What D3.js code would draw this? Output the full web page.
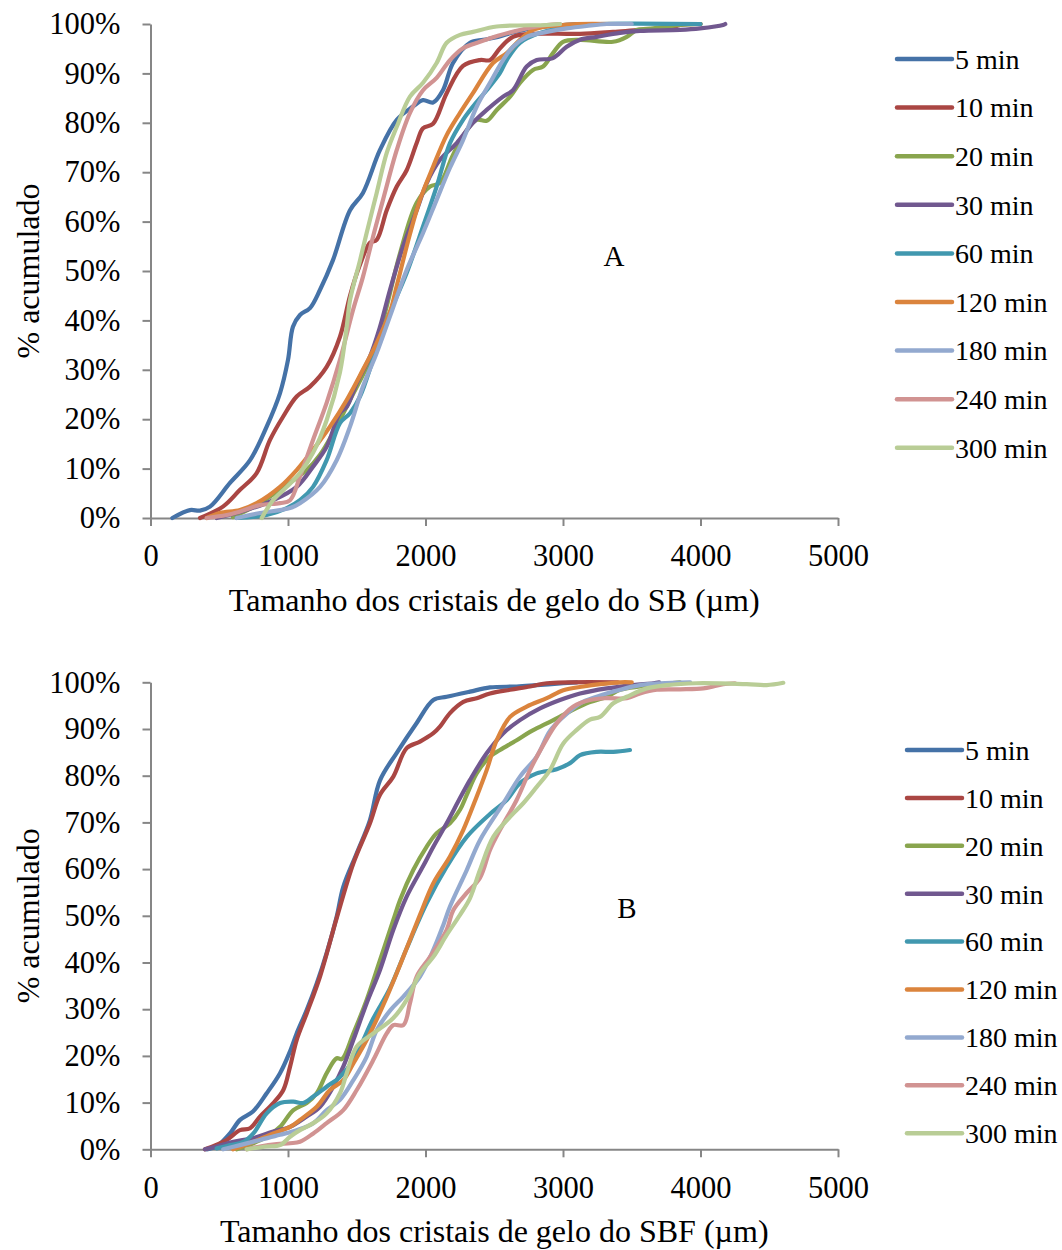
<!DOCTYPE html>
<html>
<head>
<meta charset="utf-8">
<script src="https://cdn.jsdelivr.net/npm/d3@7"></script>
<style>
  body { margin: 0; background: #fff; }
  svg { display: block; }
  text { font-family: "Liberation Serif", "Times New Roman", serif; fill: #000; }
</style>
</head>
<body>
<svg id="chart" width="1062" height="1250"></svg>
<script>
// Freezing times (series) and their colours
const seriesNames = ["5 min", "10 min", "20 min", "30 min", "60 min", "120 min", "180 min", "240 min", "300 min"];
const palette = ["#4572A7", "#AA4643", "#89A54E", "#71588F", "#4198AF", "#DB843D", "#93A9CF", "#D19392", "#B9CD96"];

// Axis ticks
const xTickValues = [0, 1000, 2000, 3000, 4000, 5000];
const yTickValues = [0, 10, 20, 30, 40, 50, 60, 70, 80, 90, 100];

// Panel A (SB): [crystal size µm, cumulative %]
const sb5 = [[159,0],[287,1.6],[360,1.5],[433,2.3],[578,7.1],[724,11.7],[845,18.5],[942,25.3],[1000,32],[1036,38.7],[1087,41.1],[1160,42.5],[1233,46.2],[1327,52.2],[1451,62.3],[1545,65.8],[1669,74.5],[1791,80.6],[1909,83.3],[1982,84.6],[2055,84.1],[2127,86.6],[2200,92.1],[2324,96.2],[2420,96.8],[2527,97.4],[2650,98.4],[2800,99.2],[3000,99.8],[3100,100]];
const sb10 = [[360,0],[527,2.3],[651,5.7],[772,9.1],[869,15.8],[964,20.5],[1063,24.6],[1160,26.6],[1281,30.6],[1378,36.7],[1451,45],[1520,51],[1596,55.7],[1645,56.3],[1718,62.3],[1791,67.1],[1863,70.4],[1936,75.9],[1982,78.9],[2055,79.8],[2154,86],[2273,91.5],[2396,92.7],[2469,92.7],[2542,95.1],[2636,97.4],[2760,98],[3124,98],[3364,98.4],[3560,98.8],[3778,99.1],[3851,99.8],[4000,100]];
const sb20 = [[600,0.2],[772,2.6],[942,5.7],[1136,9.7],[1233,12.8],[1327,17.2],[1451,23.9],[1596,32],[1691,40],[1815,53.6],[1936,63.8],[2033,67.1],[2105,67.8],[2200,73.5],[2300,78.5],[2373,80.6],[2445,80.4],[2518,82.6],[2615,85.3],[2687,88.1],[2782,90.7],[2855,91.4],[2927,94.1],[3000,96.4],[3124,96.8],[3364,96.4],[3464,97.4],[3536,98.8],[3655,99.1],[3851,99.8],[4000,100]];
const sb30 = [[481,0],[651,1.2],[891,3.6],[1063,6.3],[1182,10.4],[1281,14.4],[1378,21.3],[1427,22.5],[1500,27.3],[1596,32.7],[1669,38.7],[1742,46.2],[1836,54.9],[1936,62.3],[2009,67.8],[2105,72.5],[2227,75.9],[2345,80],[2445,82.6],[2564,85.3],[2636,86.6],[2736,91.4],[2809,92.7],[2927,93.1],[3027,95.4],[3124,96.8],[3245,97.4],[3415,98.2],[3560,98.6],[3851,98.8],[3996,99.1],[4164,99.8],[4180,100]];
const sb60 = [[627,0],[845,0.6],[991,2],[1087,3.6],[1182,6.3],[1281,11.7],[1378,19.2],[1451,21.2],[1524,24.6],[1618,32],[1718,40],[1863,49.6],[1982,59],[2081,67.1],[2178,75.9],[2273,80.6],[2345,83.3],[2445,86.6],[2542,90.1],[2591,92.7],[2687,96.2],[2833,98.2],[2978,99.2],[3172,99.8],[3269,100],[4000,100]];
const sb120 = [[409,0],[505,1],[651,1.6],[772,3],[942,6.3],[1063,9.7],[1182,13.8],[1305,18.5],[1427,23.9],[1545,30],[1645,35.4],[1745,42],[1791,47],[1887,57.5],[1960,64.4],[2055,71.1],[2154,77.5],[2251,82],[2345,86],[2491,92.1],[2591,94.1],[2687,96.8],[2782,98.8],[2882,99.5],[3000,99.8],[3100,100],[3400,100]];
const sb180 = [[627,0],[796,1],[1015,2],[1087,3],[1233,6.3],[1354,11.7],[1451,18.5],[1545,26.6],[1645,33.4],[1745,41.1],[1863,50.2],[1982,57.7],[2081,64.4],[2178,70.9],[2273,76.5],[2373,83.3],[2469,88.1],[2564,92.7],[2636,95.4],[2736,97.4],[2882,98.4],[3027,99.1],[3172,99.6],[3318,100],[3500,100]];
const sb240 = [[409,0],[554,0.6],[651,1.3],[796,2.6],[942,3],[1015,3.6],[1087,8.4],[1182,15.8],[1281,23.3],[1378,32],[1473,42.1],[1545,48.8],[1618,56.9],[1691,64.4],[1791,74.5],[1887,82],[1982,86.6],[2081,89.1],[2178,92.7],[2273,95.1],[2396,96.4],[2527,97.6],[2687,98.8],[2882,99.8],[2978,100]];
const sb300 = [[809,0],[891,3.6],[991,6.3],[1087,9.1],[1182,13.2],[1281,19.8],[1378,29.5],[1427,38.7],[1451,44.1],[1524,52.2],[1572,57.7],[1645,65.8],[1718,73.9],[1791,79.2],[1887,85.3],[1982,88.1],[2081,92.1],[2154,96.2],[2251,97.8],[2345,98.4],[2518,99.5],[2882,99.8],[2978,100]];

// Panel B (SBF): [crystal size µm, cumulative %]
const sbf5 = [[409,0],[481,0.6],[578,3.4],[651,6.3],[745,8.1],[845,12],[942,16.3],[1015,21],[1063,24.8],[1136,29.8],[1209,35.5],[1281,42],[1354,49.8],[1402,56.2],[1500,63.4],[1596,70.5],[1669,79],[1791,84.9],[1936,91.3],[2057,96.2],[2154,96.9],[2324,98],[2469,98.9],[2663,99.1],[2809,99.4],[3002,99.8],[3100,100]];
const sbf10 = [[396,0],[554,2],[651,4.1],[724,4.5],[796,7],[893,9.9],[966,12.7],[1015,17.7],[1063,23.4],[1136,29.1],[1233,37],[1354,49.5],[1475,61.2],[1596,69.8],[1669,75.9],[1766,79.8],[1863,85.9],[1960,87.3],[2057,89.1],[2105,90.5],[2178,93.4],[2275,95.8],[2372,96.6],[2469,97.6],[2615,98.4],[2760,99.1],[2882,99.8],[3400,100]];
const sbf20 = [[627,0],[748,1.3],[845,2.7],[942,4.8],[1039,8.4],[1136,9.9],[1209,12],[1281,16.3],[1354,19.5],[1391,19.3],[1475,24.8],[1572,32],[1669,40.5],[1766,49.1],[1815,53.4],[1911,59.8],[2009,64.8],[2081,67.7],[2178,69.8],[2251,72.7],[2300,75.9],[2372,80.5],[2469,84.1],[2542,85.5],[2663,87.6],[2760,89.4],[2882,91.2],[3027,93.4],[3172,95.5],[3318,96.9],[3415,98.4],[3560,99.1],[3655,99.4],[3850,100]];
const sbf30 = [[396,0],[481,0.6],[602,1.6],[748,2.4],[893,3.8],[1015,4.8],[1136,7],[1233,9.1],[1329,13.4],[1402,17.7],[1475,23.4],[1572,31.3],[1669,38.4],[1766,47],[1863,54.1],[1984,60.7],[2057,64.8],[2154,69.8],[2251,75.2],[2324,79.1],[2445,84.8],[2566,89.1],[2687,91.9],[2833,94.4],[2978,96.2],[3124,97.6],[3318,98.7],[3511,99.4],[3657,99.8],[3700,100]];
const sbf60 = [[481,0.2],[578,0.9],[675,1.6],[748,3.4],[845,7.7],[942,9.9],[1039,10.2],[1111,9.9],[1184,11.3],[1281,13.4],[1378,15.5],[1475,19.1],[1620,28],[1742,34.5],[1863,43],[2009,52.7],[2154,60.5],[2300,66.9],[2469,71.8],[2591,74.8],[2687,78.4],[2809,80.5],[2954,81.4],[3051,82.7],[3124,84.4],[3245,85.1],[3366,85.1],[3487,85.5]];
const sbf120 = [[600,0],[724,1.3],[893,3.4],[1015,4.8],[1087,6.3],[1209,9.1],[1305,12.7],[1402,14.8],[1475,18.4],[1572,23.4],[1693,30.9],[1815,39.5],[1960,50.2],[2057,57],[2178,62.7],[2275,68.4],[2372,75.5],[2445,81.2],[2518,87.6],[2615,92.6],[2736,94.8],[2882,96.6],[3002,98.3],[3148,99.1],[3269,99.6],[3415,100],[3500,100]];
const sbf180 = [[529,0],[651,0.9],[796,2],[942,3.1],[1063,4.1],[1184,5.6],[1281,8.4],[1378,10.6],[1475,14.8],[1572,19.8],[1645,25.5],[1745,29.8],[1839,32.7],[1960,37],[2057,42.7],[2129,48],[2178,52],[2300,59.8],[2396,66.2],[2566,74.1],[2687,79.8],[2809,84.1],[2905,89.6],[3002,92.6],[3124,95.5],[3245,96.9],[3415,98.4],[3560,99.4],[3705,99.8],[3925,100]];
const sbf240 = [[700,0],[796,0.6],[918,1.1],[1015,1.3],[1087,1.6],[1184,3.4],[1281,5.6],[1402,8.4],[1500,12.7],[1620,19.1],[1718,24.8],[1766,26.6],[1839,26.6],[1887,31.3],[1936,37],[2033,41.2],[2154,47],[2202,51.2],[2300,54.9],[2396,58.1],[2469,64.1],[2542,68.4],[2663,74.8],[2760,81.2],[2857,86.6],[2954,91.2],[3075,94.8],[3196,96.2],[3318,96.6],[3464,96.6],[3560,97.6],[3682,98.4],[3851,98.5],[4020,98.7],[4093,99.1],[4166,99.6],[4251,99.8]];
const sbf300 = [[700,0],[845,0.6],[942,0.9],[1015,2.7],[1087,4.1],[1184,5.6],[1281,7.7],[1378,12],[1427,16.3],[1500,22],[1620,24.8],[1766,28.1],[1863,32],[1960,37.7],[2057,41.2],[2154,45.9],[2251,50.2],[2324,53.8],[2396,59.8],[2493,66.9],[2615,71.2],[2711,74.1],[2809,77.6],[2905,81.2],[3002,86.9],[3100,89.8],[3196,92],[3269,92.6],[3366,95.5],[3464,96.9],[3609,98.7],[3754,99.4],[3972,99.8],[4336,99.6],[4482,99.4],[4602,99.9]];

const panelSB = [sb5, sb10, sb20, sb30, sb60, sb120, sb180, sb240, sb300];
const panelSBF = [sbf5, sbf10, sbf20, sbf30, sbf60, sbf120, sbf180, sbf240, sbf300];

const svg = d3.select("#chart");
const TICK_FONT = 30.5;
const TITLE_FONT = 32;
const LEGEND_FONT = 28;
const axisColor = "#868686";

function drawPanel(cfg) {
  const g = svg.append("g");
  const x = d3.scaleLinear().domain([0, 5000]).range([150.5, 838]);
  const y = d3.scaleLinear().domain([0, 100]).range([cfg.yBottom, cfg.yTop]);

  // y axis
  const yAxis = g.append("g")
    .attr("transform", "translate(150.5,0)")
    .call(d3.axisLeft(y).tickValues(yTickValues).tickSize(8).tickSizeOuter(0).tickPadding(22)
      .tickFormat(d => d + "%"));
  // x axis
  const xAxis = g.append("g")
    .attr("transform", `translate(0,${cfg.yBottom})`)
    .call(d3.axisBottom(x).tickValues(xTickValues).tickSize(8).tickSizeOuter(0).tickPadding(cfg.xPad)
      .tickFormat(d => d));
  [yAxis, xAxis].forEach(a => {
    a.select(".domain").attr("stroke", axisColor).attr("stroke-width", 2);
    a.selectAll(".tick line").attr("stroke", axisColor).attr("stroke-width", 2);
    a.selectAll(".tick text").attr("font-size", TICK_FONT)
      .attr("font-family", "'Liberation Serif', 'Times New Roman', serif").attr("fill", "#000");
  });

  // series curves
  const line = d3.line()
    .x(d => x(d[0]))
    .y(d => y(d[1]))
    .curve(d3.curveCatmullRom.alpha(0.5));
  g.append("g").selectAll("path")
    .data(cfg.series)
    .join("path")
    .attr("d", line)
    .attr("fill", "none")
    .attr("stroke", (d, i) => palette[i])
    .attr("stroke-width", 4.2)
    .attr("stroke-linecap", "round")
    .attr("stroke-linejoin", "round");

  // axis titles
  g.append("text")
    .attr("x", (150.5 + 838) / 2)
    .attr("y", cfg.xTitleY)
    .attr("text-anchor", "middle")
    .attr("font-size", TITLE_FONT)
    .text(cfg.xTitle);
  g.append("text")
    .attr("transform", `translate(39,${(cfg.yTop + cfg.yBottom) / 2}) rotate(-90)`)
    .attr("text-anchor", "middle")
    .attr("font-size", TITLE_FONT)
    .text("% acumulado");

  // panel letter
  g.append("text")
    .attr("x", cfg.letterX)
    .attr("y", cfg.letterY)
    .attr("text-anchor", "middle")
    .attr("font-size", 29)
    .text(cfg.letter);

  // legend
  const leg = g.append("g").selectAll("g")
    .data(seriesNames)
    .join("g")
    .attr("transform", (d, i) => `translate(${cfg.legX},${cfg.legY + i * cfg.legStep})`);
  leg.append("line")
    .attr("x1", 0).attr("x2", 55).attr("y1", 0).attr("y2", 0)
    .attr("stroke", (d, i) => palette[i])
    .attr("stroke-width", 4.5)
    .attr("stroke-linecap", "round");
  leg.append("text")
    .attr("x", 58)
    .attr("y", 0)
    .attr("dy", "0.35em")
    .attr("font-size", LEGEND_FONT)
    .text(d => d);
}

drawPanel({
  series: panelSB, yTop: 24, yBottom: 518, xPad: 18, xTitleY: 611,
  xTitle: "Tamanho dos cristais de gelo do SB (µm)",
  letter: "A", letterX: 614, letterY: 266,
  legX: 897, legY: 59, legStep: 48.6
});
drawPanel({
  series: panelSBF, yTop: 682.3, yBottom: 1149.3, xPad: 19, xTitleY: 1242,
  xTitle: "Tamanho dos cristais de gelo do SBF (µm)",
  letter: "B", letterX: 627, letterY: 918,
  legX: 907, legY: 750, legStep: 47.9
});
</script>
</body>
</html>
